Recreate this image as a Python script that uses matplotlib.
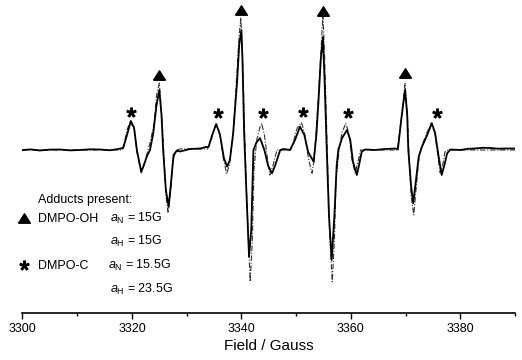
import matplotlib
matplotlib.use('Agg')
import matplotlib.pyplot as plt
from matplotlib.ticker import MultipleLocator

plt.rcParams['font.family'] = ['Liberation Sans', 'DejaVu Sans']
plt.rcParams['mathtext.fontset'] = 'custom'
plt.rcParams['mathtext.rm'] = 'Liberation Sans'
plt.rcParams['mathtext.it'] = 'Liberation Sans:italic'

# Experimental spectrum (field in Gauss, intensity in arbitrary units)
exp_field = [3300.0, 3301.5, 3303.2, 3305.0, 3306.9, 3308.7, 3310.5, 3312.4, 3314.2, 3316.0,
             3317.5, 3318.4, 3319.1, 3319.8, 3320.4, 3320.9, 3321.7, 3322.2, 3322.7, 3323.3,
             3323.9, 3324.5, 3325.0, 3325.4, 3325.7, 3326.2, 3326.7, 3327.1, 3327.6, 3328.2,
             3328.8, 3330.6, 3332.5, 3333.5, 3334.0, 3334.6, 3335.4, 3336.1, 3336.8, 3337.4,
             3337.9, 3338.5, 3339.2, 3339.6, 3340.0, 3340.2, 3340.5, 3340.9, 3341.4, 3341.8,
             3342.2, 3342.7, 3343.4, 3344.2, 3344.9, 3345.6, 3346.2, 3347.1, 3347.7, 3348.9,
             3349.8, 3350.7, 3351.5, 3352.2, 3353.2, 3353.7, 3354.1, 3354.5, 3354.9, 3355.2,
             3355.6, 3356.0, 3356.5, 3357.0, 3357.4, 3357.7, 3358.4, 3359.3, 3359.9, 3360.4,
             3361.1, 3361.5, 3362.0, 3362.6, 3364.4, 3366.3, 3368.1, 3368.6, 3369.2, 3369.9,
             3370.3, 3370.5, 3371.0, 3371.4, 3371.8, 3372.4, 3373.0, 3373.8, 3374.8, 3375.4,
             3376.0, 3376.6, 3377.1, 3377.6, 3378.2, 3380.0, 3381.4, 3382.7, 3384.1, 3385.5,
             3386.9, 3388.2, 3390.0]
exp_int = [0.0, 0.6, -0.5, 0.4, 0.5, -0.4, 0.0, 0.7, 0.5, -0.3,
           1.0, 2.0, 15.0, 29.0, 22.0, 0.0, -21.7, -15.0, -6.7, 0.0,
           17.0, 45.0, 60.0, 35.0, 0.0, -40.0, -56.7, -35.0, -5.0, -0.7,
           -1.5, 1.0, 1.5, 3.0, 3.0, 14.0, 26.0, 15.0, -8.0, -16.7,
           -10.0, 17.0, 67.0, 105.0, 120.0, 90.0, 17.0, -40.0, -106.7, -80.0,
           0.0, 7.0, 12.0, 0.0, -16.0, -23.3, -15.0, 0.0, 1.0, 0.0,
           10.0, 23.3, 15.0, -2.0, -11.7, 15.0, 50.0, 90.0, 113.0, 70.0,
           0.0, -65.0, -110.0, -65.0, -16.7, 0.0, 12.0, 20.0, 10.0, -12.0,
           -25.0, -15.0, -1.7, 0.5, 0.0, 1.0, 1.5, 0.7, 30.0, 60.0,
           35.0, 0.0, -35.0, -53.3, -35.0, -6.7, 3.3, 13.0, 26.7, 17.0,
           -5.0, -25.0, -15.0, -3.3, 0.5, 0.0, 1.2, 1.5, 2.2, 2.0,
           1.3, 1.5, 1.5]

# Simulated spectrum
sim_field = [3300.0, 3318.2, 3318.6, 3319.1, 3319.7, 3320.4, 3320.9, 3321.7, 3322.2, 3322.8,
             3323.3, 3324.0, 3324.5, 3325.0, 3325.4, 3325.8, 3326.2, 3326.6, 3327.1, 3327.5,
             3328.1, 3328.8, 3333.8, 3334.5, 3335.3, 3336.0, 3336.7, 3337.3, 3337.8, 3338.5,
             3339.1, 3339.6, 3339.9, 3340.2, 3340.6, 3341.0, 3341.6, 3342.0, 3342.3, 3342.8,
             3343.4, 3343.7, 3344.2, 3344.8, 3345.2, 3345.8, 3346.5, 3348.9, 3349.5, 3350.2,
             3351.0, 3351.6, 3352.3, 3352.9, 3353.3, 3353.8, 3354.4, 3354.9, 3355.2, 3355.7,
             3356.1, 3356.6, 3357.0, 3357.3, 3357.9, 3358.4, 3359.1, 3359.7, 3360.2, 3360.8,
             3361.3, 3361.8, 3368.5, 3369.0, 3369.5, 3369.9, 3370.3, 3370.6, 3371.0, 3371.5,
             3371.9, 3372.5, 3372.9, 3373.8, 3374.7, 3375.3, 3375.9, 3376.3, 3376.8, 3377.2,
             3377.8, 3390.0]
sim_int = [0.0, 0.0, 7.0, 20.0, 29.0, 20.0, -2.0, -23.0, -14.0, -3.0,
           7.0, 25.0, 55.0, 67.0, 38.0, 0.0, -45.0, -63.0, -40.0, -10.0,
           0.0, 1.0, 1.0, 10.0, 26.0, 18.0, -8.0, -24.0, -15.0, 15.0,
           70.0, 115.0, 132.0, 95.0, 17.0, -50.0, -131.7, -90.0, -20.0, 10.0,
           23.0, 26.7, 15.0, -10.0, -25.0, -15.0, 0.0, 0.0, 8.0, 22.0,
           27.3, 15.0, -10.0, -23.3, -10.0, 30.0, 85.0, 135.0, 95.0, 0.0,
           -80.0, -131.7, -90.0, -30.0, 2.0, 18.0, 26.7, 15.0, -10.0, -23.0,
           -12.0, 0.0, 0.0, 20.0, 45.0, 66.7, 40.0, 0.0, -45.0, -65.0,
           -40.0, -6.0, 3.0, 16.0, 27.0, 18.0, -5.0, -23.0, -15.0, -2.0,
           0.0, 0.0]

# Peak labels
tri_field = [3325.0, 3339.9, 3354.9, 3369.9]
tri_int = [75.0, 140.0, 139.0, 76.7]
star_field = [3319.8, 3335.7, 3344.0, 3351.3, 3359.4, 3375.7]
star_int = [38.3, 36.7, 37.0, 38.3, 36.7, 36.7]

xticks = [3300, 3320, 3340, 3360, 3380]

fig = plt.figure(figsize=(5.22, 3.6), dpi=100)
ax = fig.add_axes([0.0431, 0.1306, 0.9435, 0.8694])

ax.plot(sim_field, sim_int, color='#333333', lw=0.8, ls=(0, (5, 1.5, 1, 1.5)), zorder=2)
ax.plot(exp_field, exp_int, color='black', lw=1.3, zorder=3)

tri_marker = [(-1, -0.8), (1, -0.8), (0, 0.8), (-1, -0.8)]
star_ms = 6.5
tri_ms = 8.5
ax.plot(tri_field, tri_int, ls='none', marker=tri_marker, ms=tri_ms, color='black', clip_on=False)
ax.plot(star_field, star_int, ls='none', marker='$*$', ms=star_ms, color='black', clip_on=False)

ax.set_xlim(3300, 3390)
ax.set_ylim(-163, 150)
for s in ['left', 'right', 'top']:
    ax.spines[s].set_visible(False)
ax.spines['bottom'].set_linewidth(1.2)
ax.set_yticks([])
ax.set_xticks(xticks)
ax.xaxis.set_minor_locator(MultipleLocator(10))
ax.tick_params(axis='x', which='major', direction='out', length=4, width=1, labelsize=9, pad=3)
ax.tick_params(axis='x', which='minor', direction='out', length=2.5, width=1)
ax.set_xlabel('Field / Gauss', fontsize=11, labelpad=3)

# Legend block
fs = 9
ax.text(3302.8, -52.7, 'Adducts present:', fontsize=fs, va='baseline', ha='left')
ax.plot([3300.3], [-68], ls='none', marker=tri_marker, ms=tri_ms, color='black', clip_on=False)
ax.text(3302.9, -71.7, 'DMPO-OH', fontsize=fs, va='baseline', ha='left')
ax.text(3315.9, -71.7, r'$a_{\mathrm{N}}$ = 15G', fontsize=fs, va='baseline', ha='left')
ax.text(3315.9, -95.0, r'$a_{\mathrm{H}}$ = 15G', fontsize=fs, va='baseline', ha='left')
ax.plot([3300.3], [-115], ls='none', marker='$*$', ms=star_ms, color='black', clip_on=False)
ax.text(3302.9, -119.0, 'DMPO-C', fontsize=fs, va='baseline', ha='left')
ax.text(3315.6, -119.0, r'$a_{\mathrm{N}}$ = 15.5G', fontsize=fs, va='baseline', ha='left')
ax.text(3315.9, -142.7, r'$a_{\mathrm{H}}$ = 23.5G', fontsize=fs, va='baseline', ha='left')

fig.savefig('out.png', dpi=100)
